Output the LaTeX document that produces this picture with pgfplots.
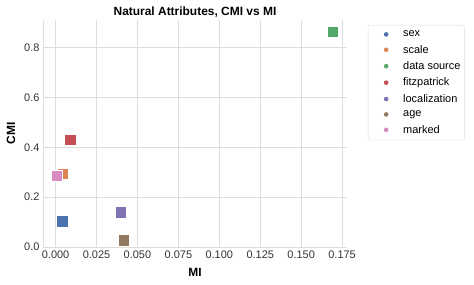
\documentclass[border=0pt]{standalone}
\usepackage{pgfplots}
\pgfplotsset{compat=1.18}
\usepackage{fontspec}
\setmainfont{Liberation Sans}
\definecolor{c1}{HTML}{4C72B0}
\definecolor{c2}{HTML}{DD8452}
\definecolor{c3}{HTML}{55A868}
\definecolor{c4}{HTML}{C44E52}
\definecolor{c5}{HTML}{8172B3}
\definecolor{c6}{HTML}{937860}
\definecolor{c7}{HTML}{DA8BC3}
\definecolor{gridc}{HTML}{DDDDDD}
\begin{document}
\begin{tikzpicture}
\path[use as bounding box] (-43bp,-38bp) rectangle (431bp,247bp);
\begin{axis}[
  at={(0,0)}, anchor=south west,
  scale only axis, width=304bp, height=227bp,
  xmin=-0.0077, xmax=0.178, ymin=0, ymax=0.911,
  xtick={0,0.025,0.05,0.075,0.1,0.125,0.15,0.175},
  ytick={0,0.2,0.4,0.6,0.8},
  xticklabel style={/pgf/number format/.cd, fixed, fixed zerofill, precision=3},
  yticklabel style={/pgf/number format/.cd, fixed, fixed zerofill, precision=1},
  /pgf/number format/assume math mode=true,
  ticklabel style={font=\fontsize{11}{13}\selectfont, text=black!80},
  major tick length=0pt,
  grid=major,
  major grid style={draw=gridc, line width=0.8bp},
  axis x line*=bottom, axis y line*=left,
  axis line style={draw=gridc, line width=1bp, -},
  every axis title shift=0pt,
  title={\textbf{Natural Attributes, CMI vs MI}},
  title style={at={(axis description cs:0.5,1)}, anchor=center, yshift=7.5bp, font=\fontsize{12}{14}\selectfont},
  xlabel={\textbf{MI}},
  xlabel style={at={(axis description cs:0.5,0)}, anchor=center, yshift=-25bp, font=\fontsize{12}{14}\selectfont},
  ylabel={\textbf{CMI}},
  ylabel style={at={(axis description cs:0,0.5)}, anchor=center, rotate=0, yshift=32bp, font=\fontsize{12}{14}\selectfont},
  legend style={at={(axis description cs:1.069,0.978)}, anchor=north west,
    draw=gridc, rounded corners=2bp, font=\fontsize{11}{13}\selectfont,
    row sep=3bp, inner xsep=2bp, inner ysep=3.5bp},
  legend cell align=left,
  legend image code/.code={%
    \path[draw=none, fill=none] (0bp,-2bp) rectangle (31bp,2bp);
    \path[draw=none, fill] (16bp,0bp) circle[radius=2.3bp];},
  every axis plot/.append style={only marks, mark=square*, mark size=5.6bp, mark options={draw=white, line width=0.7bp}},
]
\addplot[color=c1, mark=square*] coordinates {(0.0041,0.103)};
\addlegendentry{sex}
\addplot[color=c2, mark=square*] coordinates {(0.0045,0.295)};
\addlegendentry{scale}
\addplot[color=c3, mark=square*] coordinates {(0.1694,0.862)};
\addlegendentry{data source}
\addplot[color=c4, mark=square*] coordinates {(0.0090,0.431)};
\addlegendentry{fitzpatrick}
\addplot[color=c5, mark=square*] coordinates {(0.0397,0.139)};
\addlegendentry{localization}
\addplot[color=c6, mark=square*] coordinates {(0.0415,0.027)};
\addlegendentry{age}
\addplot[color=c7, mark=square*] coordinates {(0.0008,0.284)};
\addlegendentry{marked}
\end{axis}
\end{tikzpicture}
\end{document}
